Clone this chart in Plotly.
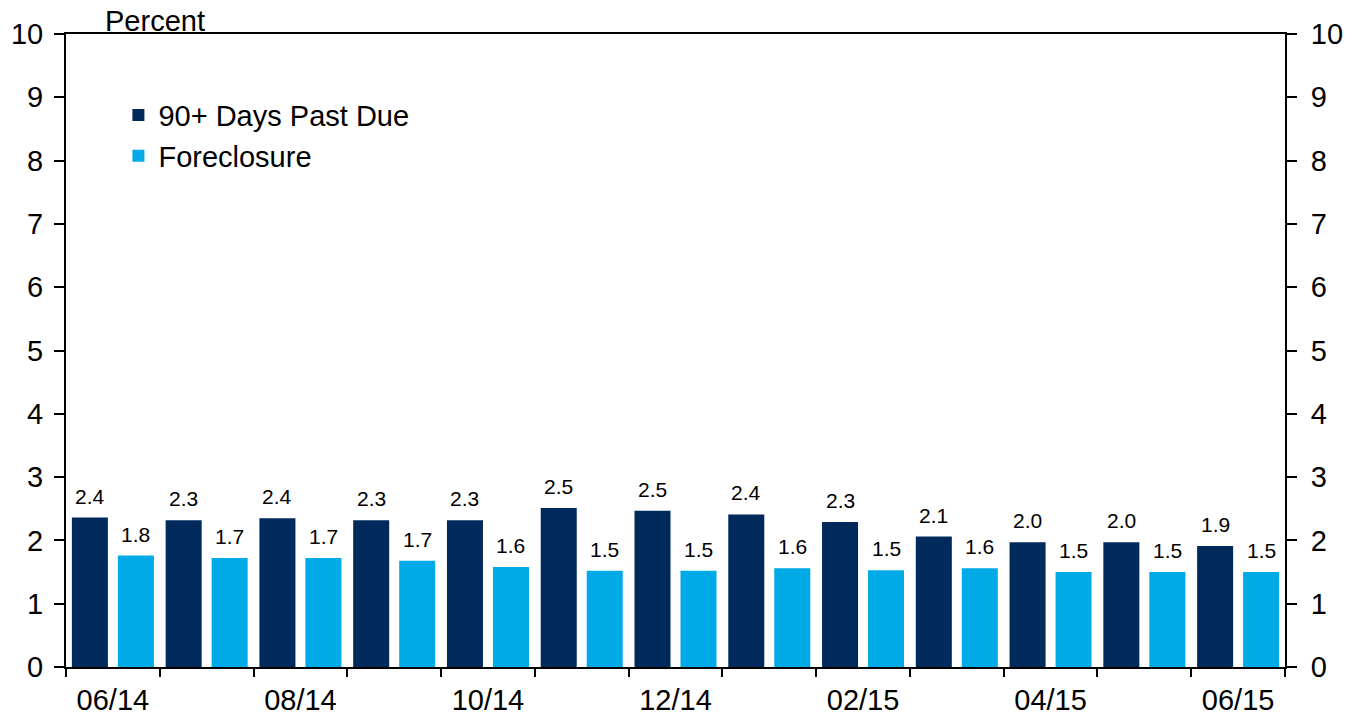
import plotly.graph_objects as go

months = ["06/14", "07/14", "08/14", "09/14", "10/14", "11/14", "12/14",
          "01/15", "02/15", "03/15", "04/15", "05/15", "06/15"]
tick_text = ["06/14", "", "08/14", "", "10/14", "", "12/14",
             "", "02/15", "", "04/15", "", "06/15"]
past_due_90 = [2.36, 2.32, 2.35, 2.32, 2.32, 2.51, 2.47, 2.41, 2.29, 2.06, 1.97, 1.97, 1.91]
foreclosure = [1.76, 1.72, 1.72, 1.68, 1.58, 1.52, 1.52, 1.56, 1.53, 1.56, 1.50, 1.50, 1.50]
y_ticks = list(range(0, 11))

DARK = "#002A5C"
LIGHT = "#00AAE6"
FONT = "Liberation Sans, Arial, sans-serif"
TICK_SIZE = 29

fig = go.Figure()
fig.add_trace(go.Bar(x=months, y=past_due_90, name="90+ Days Past Due",
                     marker=dict(color=DARK, line=dict(width=0)), hoverinfo="x+y"))
fig.add_trace(go.Bar(x=months, y=foreclosure, name="Foreclosure",
                     marker=dict(color=LIGHT, line=dict(width=0)), hoverinfo="x+y"))
# invisible trace so the right-hand axis is drawn
fig.add_trace(go.Scatter(x=[months[0]], y=[0], yaxis="y2", mode="markers",
                         marker=dict(opacity=0), showlegend=False, hoverinfo="skip"))

annotations = []
for m, v in zip(months, past_due_90):
    annotations.append(dict(x=m, y=v, xref="x", yref="y", text=f"{v:.1f}",
                            showarrow=False, xanchor="center", yanchor="bottom",
                            xshift=-23, yshift=8, font=dict(size=21, color="black", family=FONT)))
for m, v in zip(months, foreclosure):
    annotations.append(dict(x=m, y=v, xref="x", yref="y", text=f"{v:.1f}",
                            showarrow=False, xanchor="center", yanchor="bottom",
                            xshift=23, yshift=8, font=dict(size=21, color="black", family=FONT)))
annotations.append(dict(x=0.031, y=1, xref="paper", yref="paper", text="Percent",
                        showarrow=False, xanchor="left", yanchor="bottom", yshift=-4,
                        borderpad=0,
                        font=dict(size=TICK_SIZE, color="black", family=FONT)))

fig.update_layout(
    width=1359, height=717,
    margin=dict(l=66, r=74, t=34, b=50, autoexpand=False),
    paper_bgcolor="white", plot_bgcolor="white",
    font=dict(family=FONT, size=TICK_SIZE, color="black"),
    barmode="group", bargap=0.019, bargroupgap=0.217,
    showlegend=True,
    legend=dict(x=0.043, y=0.912, xanchor="left", yanchor="top",
                bgcolor="rgba(0,0,0,0)", font=dict(size=TICK_SIZE, color="black", family=FONT),
                tracegroupgap=0, itemclick=False),
    annotations=annotations,
    xaxis=dict(type="category", range=[-0.5, 12.5], tickmode="array", tickvals=months,
               ticktext=tick_text, tickson="boundaries", ticks="outside", ticklen=8,
               tickwidth=1.5, tickcolor="black", showline=True, linecolor="black",
               linewidth=2, mirror=True, showgrid=False, zeroline=False,
               ticklabelstandoff=6,
               tickfont=dict(size=TICK_SIZE, color="black", family=FONT)),
    yaxis=dict(range=[0, 10], tickmode="array", tickvals=y_ticks, ticks="outside",
               ticklen=10, tickwidth=1.5, tickcolor="black", showline=True,
               linecolor="black", linewidth=2, showgrid=False, zeroline=False,
               ticklabelstandoff=5,
               tickfont=dict(size=TICK_SIZE, color="black", family=FONT)),
    yaxis2=dict(range=[0, 10], overlaying="y", side="right", tickmode="array",
                tickvals=y_ticks, ticks="outside", ticklen=10, tickwidth=1.5,
                tickcolor="black", showline=True, linecolor="black", linewidth=2,
                showgrid=False, zeroline=False, ticklabelstandoff=8,
                tickfont=dict(size=TICK_SIZE, color="black", family=FONT)),
)

fig.write_html("out.html", config={"displayModeBar": False},
               post_script="document.body.style.margin='0';document.body.style.overflow='hidden';")
